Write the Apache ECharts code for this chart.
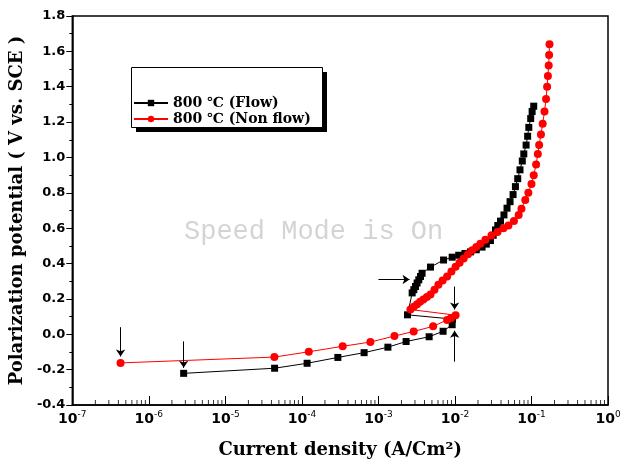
<!DOCTYPE html>
<html>
<head>
<meta charset="utf-8">
<script src="https://cdn.jsdelivr.net/npm/echarts@6/dist/echarts.min.js"></script>
<style>
  html, body { margin: 0; padding: 0; background: #fff; }
  #main { width: 629px; height: 464px; }
</style>
</head>
<body>
<div id="main"></div>
<script>
// 800 ℃ (Flow) : [current density A/cm2, potential V]
const flowData = [
  [2.85e-6, -0.221], [4.4e-5, -0.192], [1.17e-4, -0.164], [2.95e-4, -0.131],
  [6.5e-4, -0.104], [1.33e-3, -0.073], [2.3e-3, -0.041], [4.6e-3, -0.014],
  [7.0e-3, 0.017], [9.2e-3, 0.054], [9.3e-3, 0.086], [2.4e-3, 0.110],
  [2.76e-3, 0.234], [2.9e-3, 0.252], [3.05e-3, 0.27], [3.2e-3, 0.29],
  [3.37e-3, 0.308], [3.55e-3, 0.327], [3.72e-3, 0.345], [4.79e-3, 0.38],
  [7.1e-3, 0.42], [9.2e-3, 0.436], [1.12e-2, 0.447],
  [1.35e-2, 0.457], [1.6e-2, 0.466], [1.9e-2, 0.478], [2.26e-2, 0.493],
  [2.57e-2, 0.51], [2.91e-2, 0.53], [3.16e-2, 0.56], [3.39e-2, 0.59],
  [3.63e-2, 0.615], [3.94e-2, 0.64], [4.37e-2, 0.675], [4.79e-2, 0.713],
  [5.25e-2, 0.75], [5.75e-2, 0.79], [6.17e-2, 0.835], [6.61e-2, 0.88],
  [7.08e-2, 0.93], [7.59e-2, 0.98], [7.94e-2, 1.02], [8.51e-2, 1.07],
  [8.91e-2, 1.12], [9.23e-2, 1.17], [9.77e-2, 1.22], [1.02e-1, 1.26],
  [1.07e-1, 1.29]
];

// 800 ℃ (Non flow)
const nonFlowData = [
  [4.27e-7, -0.162], [4.37e-5, -0.129], [1.23e-4, -0.099], [3.41e-4, -0.068],
  [7.85e-4, -0.044], [1.62e-3, -0.010], [2.89e-3, 0.016], [5.19e-3, 0.045],
  [7.9e-3, 0.081], [8.9e-3, 0.092], [1.02e-2, 0.108], [2.62e-3, 0.14],
  [2.9e-3, 0.155], [3.2e-3, 0.17], [3.5e-3, 0.184], [3.87e-3, 0.197],
  [4.3e-3, 0.211], [4.79e-3, 0.225], [5.4e-3, 0.252], [6.08e-3, 0.28],
  [6.9e-3, 0.304], [7.9e-3, 0.327], [9.0e-3, 0.355], [1.02e-2, 0.382],
  [1.15e-2, 0.405], [1.3e-2, 0.429], [1.48e-2, 0.452], [1.68e-2, 0.475],
  [1.9e-2, 0.494], [2.15e-2, 0.512], [2.5e-2, 0.535], [3.0e-2, 0.558],
  [3.6e-2, 0.578], [4.3e-2, 0.60], [5.0e-2, 0.615], [5.9e-2, 0.64],
  [6.8e-2, 0.675], [7.4e-2, 0.71], [8.3e-2, 0.76], [9.1e-2, 0.80],
  [1.0e-1, 0.85], [1.07e-1, 0.90], [1.15e-1, 0.96], [1.21e-1, 1.02],
  [1.26e-1, 1.07], [1.33e-1, 1.13], [1.4e-1, 1.19], [1.48e-1, 1.26],
  [1.55e-1, 1.33], [1.6e-1, 1.40], [1.64e-1, 1.46], [1.68e-1, 1.52],
  [1.7e-1, 1.58], [1.72e-1, 1.64]
];

// annotation arrows: [from, to]
const arrows = [
  [[4.27e-7, 0.04], [4.27e-7, -0.125]],
  [[2.85e-6, -0.04], [2.85e-6, -0.19]],
  [[1.0e-3, 0.31], [2.55e-3, 0.31]],
  [[9.9e-3, 0.27], [9.9e-3, 0.14]],
  [[9.9e-3, -0.155], [9.9e-3, 0.02]]
];

const seriesNames = ['800 ℃ (Flow)', '800 ℃ (Non flow)'];

// minor log ticks 2..9 per decade
const minorTicks = [];
for (let e = -7; e < 0; e++) {
  for (let k = 2; k <= 9; k++) minorTicks.push([k * Math.pow(10, e), -0.4]);
}

const serif = 'DejaVu Serif';
const sans = 'DejaVu Sans';

const chart = echarts.init(document.getElementById('main'));
chart.setOption({
  animation: false,
  backgroundColor: '#fff',
  graphic: [
    {
      type: 'text',
      left: 184,
      top: 218,
      z: -10,
      style: { text: 'Speed Mode is On', font: '27px "Liberation Mono"', fill: '#d4d4d4' }
    },
    // legend frame with hard drop shadow
    { type: 'rect', left: 136, top: 72, z: 5, shape: { width: 191, height: 60 }, style: { fill: '#000' } },
    { type: 'rect', left: 131, top: 67, z: 6, shape: { width: 191, height: 60 }, style: { fill: '#fff', stroke: '#000', lineWidth: 1 } }
  ],
  grid: {
    left: 71, right: 21, top: 16, bottom: 52,
    show: true, borderColor: '#000', borderWidth: 1.5
  },
  legend: {
    orient: 'vertical',
    left: 131,
    top: 96,
    z: 10,
    data: seriesNames,
    itemWidth: 34,
    itemHeight: 8,
    itemGap: 2,
    padding: [0, 0, 0, 2],
    textStyle: { fontFamily: serif, fontWeight: 'bold', fontSize: 14, color: '#000' }
  },
  xAxis: {
    type: 'log',
    logBase: 10,
    min: 1e-7,
    max: 1,
    name: 'Current density (A/Cm²)',
    nameLocation: 'middle',
    nameGap: 36,
    nameTextStyle: { fontFamily: serif, fontWeight: 'bold', fontSize: 18, color: '#000' },
    axisLine: { onZero: false, lineStyle: { color: '#000', width: 1.5 } },
    axisTick: { inside: true, length: 9, lineStyle: { color: '#000' } },
    splitLine: { show: false },
    axisLabel: {
      margin: 5,
      showMinLabel: true,
      showMaxLabel: true,
      formatter: function (v) {
        const ex = Math.round(Math.log10(v));
        return '{b|10}{s|' + ex + '}';
      },
      rich: {
        b: { fontFamily: sans, fontWeight: 'bold', fontSize: 14, color: '#000', lineHeight: 18 },
        s: { fontFamily: sans, fontSize: 9, color: '#000', verticalAlign: 'top', lineHeight: 9 }
      }
    }
  },
  yAxis: {
    type: 'value',
    min: -0.4,
    max: 1.8,
    interval: 0.2,
    name: 'Polarization potential ( V vs. SCE )',
    nameLocation: 'middle',
    nameGap: 46,
    nameTextStyle: { fontFamily: serif, fontWeight: 'bold', fontSize: 18, color: '#000' },
    axisLine: { show: true, onZero: false, lineStyle: { color: '#000', width: 1.5 } },
    axisTick: { show: true, length: 6, lineStyle: { color: '#000' } },
    minorTick: { show: true, splitNumber: 2, length: 3, lineStyle: { color: '#000' } },
    splitLine: { show: false },
    axisLabel: {
      margin: 7,
      fontFamily: sans, fontWeight: 'bold', fontSize: 13, color: '#000',
      formatter: v => v.toFixed(1)
    }
  },
  series: [
    {
      name: seriesNames[0],
      type: 'line',
      data: flowData,
      symbol: 'rect',
      symbolSize: 7,
      itemStyle: { color: '#000' },
      lineStyle: { color: '#000', width: 1 },
      markLine: {
        silent: true,
        symbol: ['none', 'arrow'],
        symbolSize: 7,
        label: { show: false },
        lineStyle: { color: '#000', width: 1, type: 'solid' },
        data: arrows.map(a => [{ coord: a[0] }, { coord: a[1] }])
      }
    },
    {
      name: seriesNames[1],
      type: 'line',
      data: nonFlowData,
      symbol: 'circle',
      symbolSize: 8,
      itemStyle: { color: '#ff0000' },
      lineStyle: { color: '#ff0000', width: 1 }
    },
    {
      type: 'scatter',
      data: minorTicks,
      silent: true,
      clip: false,
      symbol: 'rect',
      symbolSize: [1, 5],
      symbolOffset: [0, -2.5],
      itemStyle: { color: '#000' },
      z: 1
    }
  ]
});
</script>
</body>
</html>
